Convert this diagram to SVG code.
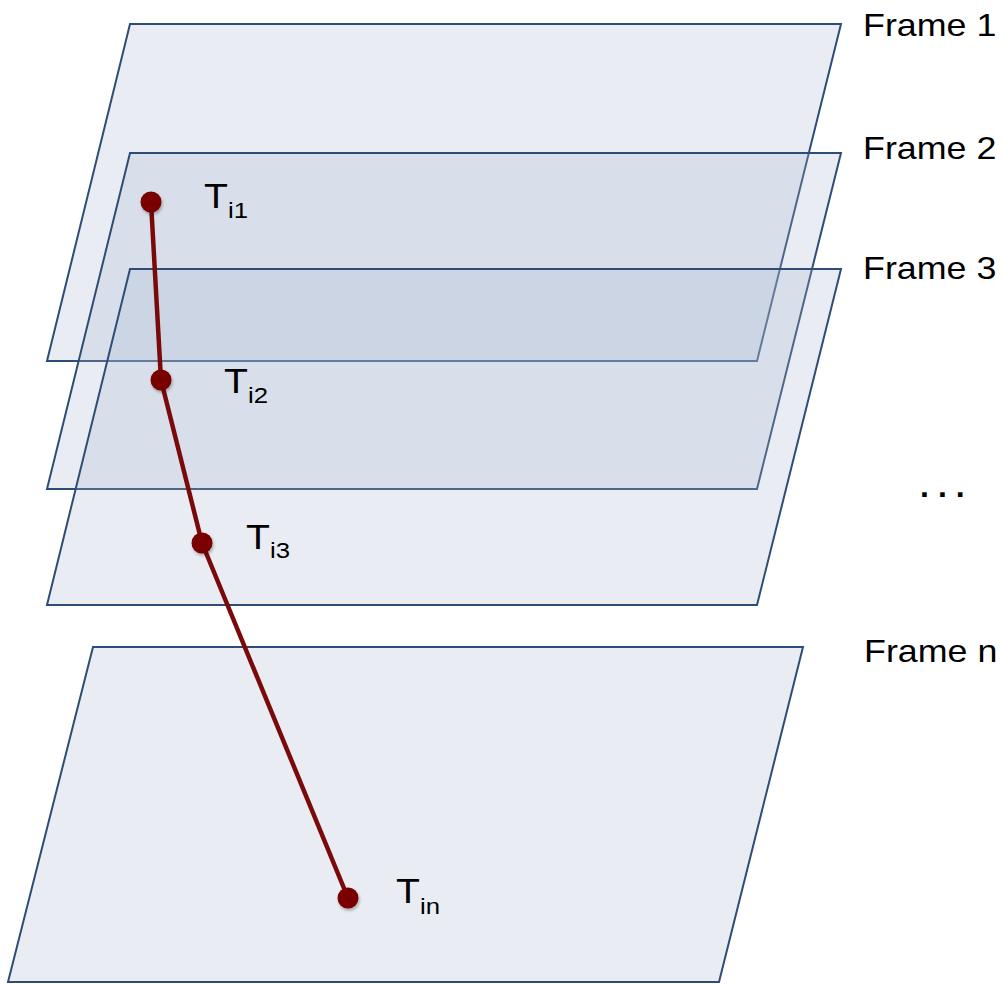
<svg xmlns="http://www.w3.org/2000/svg" width="1006" height="984" viewBox="0 0 1006 984">
  <defs>
    <filter id="sh" x="-50%" y="-50%" width="200%" height="200%">
      <feDropShadow dx="1" dy="2" stdDeviation="1.5" flood-color="#000" flood-opacity="0.3"/>
    </filter>
  </defs>
  <style>
    .frame { fill: #a7b7cf; fill-opacity: 0.25; stroke: #2e4d74; stroke-width: 2; stroke-linejoin: miter; }
    .lbl { font-family: "Liberation Sans", Arial, sans-serif; font-size: 32px; fill: #000; }
    .t { font-family: "Liberation Sans", Arial, sans-serif; font-size: 35px; fill: #000; }
    .sub { font-size: 23px; }
    .traj { fill: none; stroke: #7a0a0a; stroke-width: 4.5; stroke-linejoin: round; stroke-linecap: round; }
    .dot { fill: #7a0505; }
  </style>
  <rect x="0" y="0" width="1006" height="984" fill="#ffffff"/>

  <g id="frame1">
    <polygon class="frame" points="130,24 841,24 757,361 47,361"/>
  </g>
  <g id="frame2">
    <polygon class="frame" points="130,153 841,153 757,489 47,489"/>
  </g>
  <g id="frame3">
    <polygon class="frame" points="130,269 841,269 757,605 47,605"/>
  </g>
  <g id="framen">
    <polygon class="frame" points="93,647 803,647 719,982 8,982"/>
  </g>

  <g id="connectors">
    <polyline class="traj" points="151,202 161,380 202,543 348,898"/>
  </g>

  <g id="points" filter="url(#sh)">
    <circle id="pt1" class="dot" cx="151" cy="202" r="10.5"/>
    <circle id="pt2" class="dot" cx="161" cy="380" r="10.5"/>
    <circle id="pt3" class="dot" cx="202" cy="543" r="10.5"/>
    <circle id="ptn" class="dot" cx="348" cy="898" r="10.5"/>
  </g>

  <g id="labels">
    <g id="lbl-t1" transform="translate(204,208) scale(1.12,1)"><text class="t" x="0" y="0">T<tspan class="sub" dy="10">i1</tspan></text></g>
    <g id="lbl-t2" transform="translate(224,393) scale(1.12,1)"><text class="t" x="0" y="0">T<tspan class="sub" dy="10">i2</tspan></text></g>
    <g id="lbl-t3" transform="translate(246,549) scale(1.12,1)"><text class="t" x="0" y="0">T<tspan class="sub" dy="9">i3</tspan></text></g>
    <g id="lbl-tn" transform="translate(396,903) scale(1.12,1)"><text class="t" x="0" y="0">T<tspan class="sub" dy="11">in</tspan></text></g>

    <g id="lbl-f1" transform="translate(863,36) scale(1.12,1)"><text class="lbl" x="0" y="0">Frame 1</text></g>
    <g id="lbl-f2" transform="translate(863,159) scale(1.12,1)"><text class="lbl" x="0" y="0">Frame 2</text></g>
    <g id="lbl-f3" transform="translate(863,279) scale(1.12,1)"><text class="lbl" x="0" y="0">Frame 3</text></g>
    <text id="lbl-dots" class="lbl" x="920" y="497" font-weight="bold" font-size="26px" letter-spacing="9">...</text>
    <g id="lbl-fn" transform="translate(864,662) scale(1.12,1)"><text class="lbl" x="0" y="0">Frame n</text></g>
  </g>
</svg>
